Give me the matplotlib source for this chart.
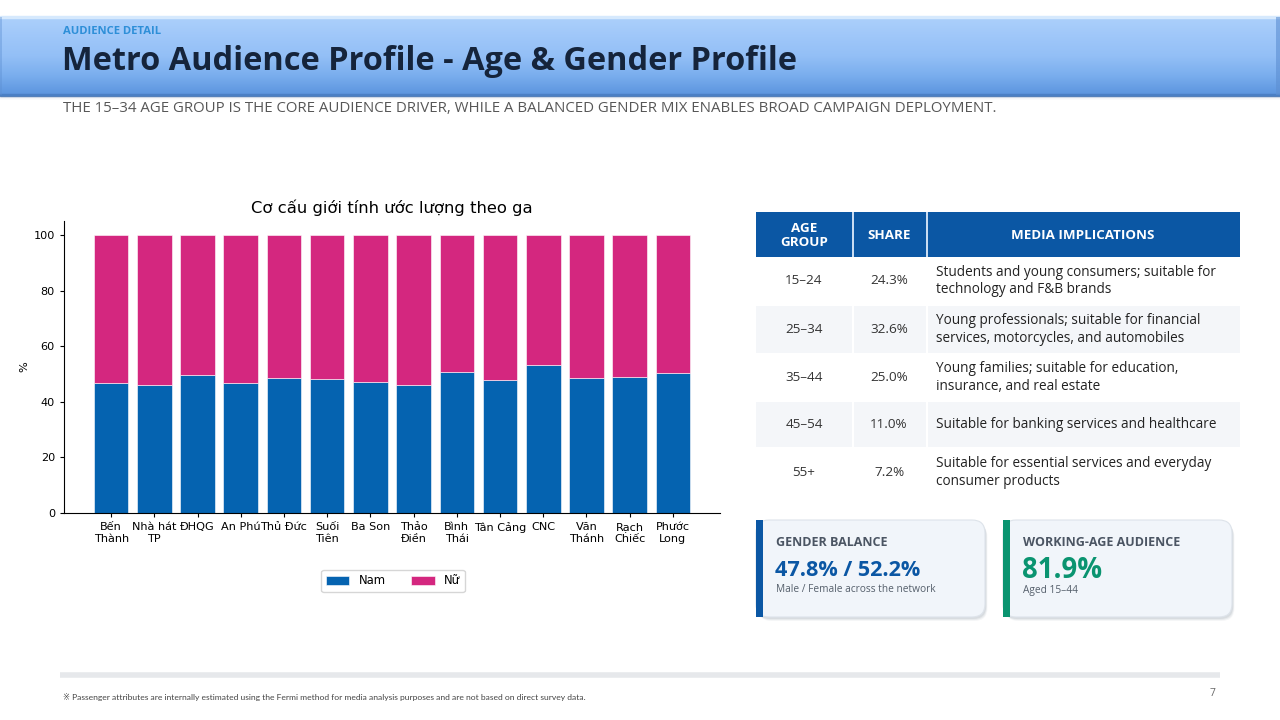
import matplotlib
matplotlib.use("Agg")
import matplotlib.pyplot as plt
from matplotlib.patches import Rectangle, FancyBboxPatch
from matplotlib.colors import LinearSegmentedColormap
import numpy as np

# ---------------- data ----------------
stations = ["Bến\nThành", "Nhà hát\nTP", "ĐHQG", "An Phú", "Thủ Đức", "Suối\nTiên", "Ba Son",
            "Thảo\nĐiền", "Bình\nThái", "Tân Cảng", "CNC", "Văn\nThánh", "Rạch\nChiếc", "Phước\nLong"]
male_pct = [46.6, 46.2, 49.5, 46.7, 48.7, 48.1, 47.2, 46.2, 50.8, 48.0, 53.1, 48.7, 49.0, 50.4]
female_pct = [53.4, 53.8, 50.5, 53.3, 51.3, 51.9, 52.8, 53.8, 49.2, 52.0, 46.9, 51.3, 51.0, 49.6]
series_labels = ["Nam", "Nữ"]
y_ticks = [0, 20, 40, 60, 80, 100]

table_headers = ["AGE\nGROUP", "SHARE", "MEDIA IMPLICATIONS"]
age_groups = ["15–24", "25–34", "35–44", "45–54", "55+"]
age_shares = ["24.3%", "32.6%", "25.0%", "11.0%", "7.2%"]
implications = [
    "Students and young consumers; suitable for\ntechnology and F&B brands",
    "Young professionals; suitable for financial\nservices, motorcycles, and automobiles",
    "Young families; suitable for education,\ninsurance, and real estate",
    "Suitable for banking services and healthcare",
    "Suitable for essential services and everyday\nconsumer products",
]

card_titles = ["GENDER BALANCE", "WORKING-AGE AUDIENCE"]
card_values = ["47.8% / 52.2%", "81.9%"]
card_notes = ["Male / Female across the network", "Aged 15–44"]

eyebrow = "AUDIENCE DETAIL"
page_title = "Metro Audience Profile - Age & Gender Profile"
subtitle = ("THE 15–34 AGE GROUP IS THE CORE AUDIENCE DRIVER, WHILE A BALANCED GENDER MIX "
            "ENABLES BROAD CAMPAIGN DEPLOYMENT.")
chart_title = "Cơ cấu giới tính ước lượng theo ga"
footnote = ("※ Passenger attributes are internally estimated using the Fermi method for media "
            "analysis purposes and are not based on direct survey data.")
page_no = "7"

# ---------------- styles ----------------
BLUE = "#0563b0"
PINK = "#d4277f"
NAVY_HDR = "#0b57a4"
GREEN = "#0a9470"
TXT = "#333333"
UI = ["Open Sans", "DejaVu Sans"]
NARROW = ["Lato", "DejaVu Sans"]

W, H = 1280, 720
fig = plt.figure(figsize=(W / 100, H / 100), dpi=100)
fig.patch.set_facecolor("white")

# background / decoration axes in pixel coordinates
bg = fig.add_axes([0, 0, 1, 1], zorder=0)
bg.set_xlim(0, W)
bg.set_ylim(H, 0)
bg.axis("off")

# header band with vertical gradient
cmap = LinearSegmentedColormap.from_list("hdr", ["#acd0fb", "#9fc7f9", "#93bff6", "#7aaeee", "#5b94de"])
grad = np.linspace(0, 1, 256).reshape(-1, 1)
bg.imshow(grad, cmap=cmap, extent=(0, W, 95, 17), aspect="auto", zorder=1)
bg.add_patch(Rectangle((0, 16), W, 1.5, color="#d6e9fd", zorder=2))
bg.add_patch(Rectangle((0, 94), W, 1.5, color="#4a7fc4", zorder=2))
bg.add_patch(Rectangle((W - 4, 17), 4, 78, color="#5d8fd2", alpha=0.6, lw=0, zorder=2))
bg.add_patch(Rectangle((0, 17), 2, 78, color="#5d8fd2", alpha=0.4, lw=0, zorder=2))
for i, a in enumerate([0.22, 0.14, 0.08, 0.04]):
    bg.add_patch(Rectangle((0, 95.5 + i), W, 1, color="#7a8799", alpha=a, lw=0, zorder=2))

bg.text(63, 31, eyebrow, fontsize=8.1, fontweight="bold", color="#2e8fd8", family=UI,
        va="center", ha="left", zorder=3)
bg.text(62, 61, page_title, fontsize=23.4, fontweight="bold", color="#15243b", family=UI,
        va="center", ha="left", zorder=3)
bg.text(63, 108, subtitle, fontsize=10.85, color="#575757", family=UI,
        va="center", ha="left", zorder=3)

# ---------------- table ----------------
col_x = [756, 852, 926, 1240]
row_y = [212, 257, 305, 354, 401, 448, 497]
gap = 1.5
for c in range(3):
    bg.add_patch(Rectangle((col_x[c], row_y[0]), col_x[c + 1] - col_x[c], row_y[1] - row_y[0],
                           color=NAVY_HDR, lw=0, zorder=2))
    if c:
        bg.add_patch(Rectangle((col_x[c], row_y[0]), gap, row_y[1] - row_y[0],
                               color="#c9dcf2", lw=0, zorder=2.2))
hx = [(col_x[0] + col_x[1]) / 2, (col_x[1] + col_x[2]) / 2, (col_x[2] + col_x[3]) / 2]
for c, t in enumerate(table_headers):
    bg.text(hx[c], (row_y[0] + row_y[1]) / 2 + 1, t, fontsize=9.6, fontweight="bold",
            color="white", family=UI, ha="center", va="center", linespacing=1.2, zorder=3)

for r in range(len(age_groups)):
    y0, y1 = row_y[r + 1], row_y[r + 2]
    if r % 2 == 1:
        for c in range(3):
            bg.add_patch(Rectangle((col_x[c] + (1.5 if c else 0), y0 + 1),
                                   col_x[c + 1] - col_x[c] - (1.5 if c else 0), y1 - y0 - 2,
                                   color="#f4f6f9", lw=0, zorder=1.5))
    yc = (y0 + y1) / 2
    bg.text(hx[0], yc, age_groups[r], fontsize=9.7, color=TXT, family=UI,
            ha="center", va="center", zorder=3)
    bg.text(hx[1], yc, age_shares[r], fontsize=9.7, color=TXT, family=UI,
            ha="center", va="center", zorder=3)
    bg.text(936, yc, implications[r], fontsize=9.8, color="#222222", family=UI,
            ha="left", va="center", linespacing=1.2, zorder=3)

# ---------------- cards ----------------
card_x = [756, 1003]
card_w, card_top, card_h = 229, 520, 97
accents = [NAVY_HDR, GREEN]
value_sizes = [15.6, 19.8]
for k in range(2):
    x0 = card_x[k]
    for s, a in [(4, 0.08), (3, 0.12), (2, 0.16)]:
        bg.add_patch(FancyBboxPatch((x0 + s * 0.6, card_top + s), card_w, card_h,
                                    boxstyle="round,pad=0,rounding_size=13",
                                    fc="#8a94a3", ec="none", alpha=a, zorder=1.5))
    bg.add_patch(FancyBboxPatch((x0, card_top), card_w, card_h,
                                boxstyle="round,pad=0,rounding_size=13",
                                fc="#f1f5fa", ec="#dde3ea", lw=0.8, zorder=2))
    bg.add_patch(Rectangle((x0, card_top), 7, card_h, color=accents[k], lw=0, zorder=2.5))
    bg.text(x0 + 20, 542, card_titles[k], fontsize=9.0, fontweight="bold", color="#4b5563",
            family=UI, ha="left", va="center", zorder=3)
    bg.text(x0 + 19, 570, card_values[k], fontsize=value_sizes[k], fontweight="bold",
            color=accents[k], family=UI, ha="left", va="center", zorder=3)
    bg.text(x0 + 20, 590, card_notes[k], fontsize=7.3, color="#555f6b", family=UI,
            ha="left", va="center", zorder=3)

# ---------------- footer ----------------
bg.plot([60, 1220], [675, 675], color="#e6e8eb", lw=4, solid_capstyle="butt", zorder=2)
bg.text(63, 697, footnote, fontsize=6.1, color="#444444", family=NARROW,
        ha="left", va="center", zorder=3)
bg.text(1213, 694, page_no, fontsize=7.5, color="#666666", family=UI,
        ha="center", va="center", zorder=3)

# ---------------- chart ----------------
ax_l, ax_r, ax_b, ax_t = 64, 720, 513, 221
ax = fig.add_axes([ax_l / W, 1 - ax_b / H, (ax_r - ax_l) / W, (ax_b - ax_t) / H], zorder=2)
ax.set_facecolor("none")
x = np.arange(len(stations))
ax.bar(x, male_pct, color=BLUE, label=series_labels[0], edgecolor="white", linewidth=0.4)
ax.bar(x, female_pct, bottom=male_pct, color=PINK, label=series_labels[1],
       edgecolor="white", linewidth=0.4)
ax.set_ylim(0, 105)
ax.set_yticks(y_ticks)
ax.set_xticks(x)
ax.set_xticklabels(stations, fontsize=8.1, linespacing=1.25)
ax.tick_params(axis="y", labelsize=8.1)
ax.tick_params(length=3, width=0.8)
ax.set_ylabel("%", fontsize=8.2, labelpad=3)
ax.set_title(chart_title, fontsize=11.8, pad=6)
ax.spines["top"].set_visible(False)
ax.spines["right"].set_visible(False)
ax.legend(loc="center", bbox_to_anchor=(393 / W, 1 - 581 / H), bbox_transform=fig.transFigure,
          ncol=2, fontsize=8.4, frameon=True, columnspacing=2.2)

fig.savefig("out.png", dpi=100)
